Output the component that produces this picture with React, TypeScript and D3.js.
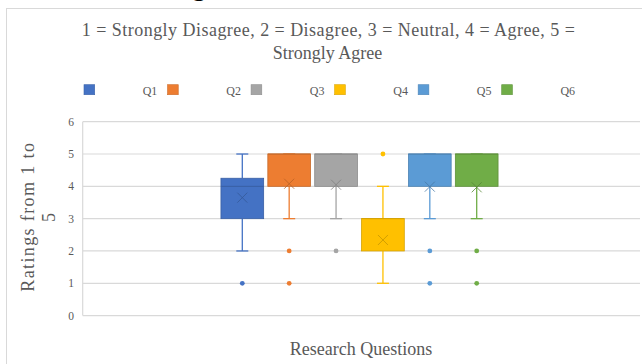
import React from "react";
import * as d3 from "d3";

const questions = ["Q1", "Q2", "Q3", "Q4", "Q5", "Q6"];
const lowerWhisker = [2, 3, 3, 1, 3, 3];
const firstQuartile = [3, 4, 4, 2, 4, 4];
const medians = [4, 5, 5, 3, 5, 5];
const thirdQuartile = [4.25, 5, 5, 3, 5, 5];
const upperWhisker = [5, 5, 5, 4, 5, 5];
const means = [3.65, 4.08, 4.05, 2.34, 3.99, 3.97];
const outliers = [[1], [2, 1], [2], [5], [2, 1], [2, 1]];
const colors = ["#4472C4", "#ED7D31", "#A5A5A5", "#FFC000", "#5B9BD5", "#70AD47"];
const yTicks = [0, 1, 2, 3, 4, 5, 6];
const titleLines = [
  "1 = Strongly  Disagree,  2 = Disagree,  3 = Neutral,  4 = Agree,  5 =",
  "Strongly  Agree",
];
const yTitleLines = ["Ratings  from  1  to", "5"];
const xTitle = "Research  Questions";

const W = 642;
const H = 364;
const FONT = "'Liberation Serif', 'Times New Roman', serif";
const TXT = "#595959";

export default function App() {
  const plotLeft = 82.7;
  const plotRight = 640;
  const y = d3.scaleLinear().domain([0, 6]).range([315.6, 121.7]);
  const x = d3.scalePoint<string>().domain(questions).range([242.3, 476.7]);
  const boxW = 42.7;
  const capW = 12;
  const legendX = d3.scalePoint<string>().domain(questions).range([84, 501.7]);

  return (
    <svg
      width={W}
      height={H}
      style={{ position: "absolute", left: 0, top: 0, background: "#fff" }}
      fontFamily={FONT}
    >
      <rect x={0} y={0} width={W} height={H} fill="#fff" />
      {/* cut-off heading glyph from the page above */}
      <text x={192} y={-5} fontSize={28} fill="#000" fontFamily={FONT}>
        g
      </text>
      {/* chart frame */}
      <rect x={6.5} y={8.5} width={W + 20} height={H + 20} fill="#fff" stroke="#D9D9D9" strokeWidth={1} />

      {/* title */}
      <text x={328.3} y={35.5} textAnchor="middle" fontSize={18} fill={TXT} textLength={493} lengthAdjust="spacing">
        {titleLines[0]}
      </text>
      <text x={327.5} y={59} textAnchor="middle" fontSize={18} fill={TXT}>
        {titleLines[1]}
      </text>

      {/* legend */}
      {questions.map((q, i) => (
        <g key={q}>
          <rect
            x={legendX(q)!}
            y={84.7}
            width={10.7}
            height={10}
            fill={colors[i]}
            stroke={d3.color(colors[i])!.darker(0.4).toString()}
            strokeWidth={0.6}
          />
          <text x={legendX(q)! + 58.7} y={95} fontSize={12} fill={TXT}>
            {q}
          </text>
        </g>
      ))}

      {/* gridlines */}
      {yTicks.map((t) => (
        <line key={t} x1={plotLeft} x2={plotRight} y1={y(t)} y2={y(t)} stroke="#D9D9D9" strokeWidth={1.2} />
      ))}
      <line x1={plotLeft} x2={plotLeft} y1={y(6)} y2={y(0)} stroke="#D9D9D9" strokeWidth={1.2} />
      {yTicks.map((t) => (
        <text key={t} x={74} y={y(t) + 4} textAnchor="end" fontSize={11.5} fill={TXT}>
          {t}
        </text>
      ))}

      {/* boxes */}
      {questions.map((q, i) => {
        const cx = x(q)!;
        const c = colors[i];
        const dark = d3.color(c)!.darker(0.5).toString();
        return (
          <g key={q}>
            <line x1={cx} x2={cx} y1={y(firstQuartile[i])} y2={y(lowerWhisker[i])} stroke={c} strokeWidth={1.3} />
            <line x1={cx} x2={cx} y1={y(thirdQuartile[i])} y2={y(upperWhisker[i])} stroke={c} strokeWidth={1.3} />
            <line x1={cx - capW / 2} x2={cx + capW / 2} y1={y(lowerWhisker[i])} y2={y(lowerWhisker[i])} stroke={c} strokeWidth={1.3} />
            <line x1={cx - capW / 2} x2={cx + capW / 2} y1={y(upperWhisker[i])} y2={y(upperWhisker[i])} stroke={c} strokeWidth={1.3} />
            <rect
              x={cx - boxW / 2}
              y={y(thirdQuartile[i])}
              width={boxW}
              height={y(firstQuartile[i]) - y(thirdQuartile[i])}
              fill={c}
              stroke={dark}
              strokeWidth={0.8}
            />
            <line x1={cx - boxW / 2} x2={cx + boxW / 2} y1={y(medians[i])} y2={y(medians[i])} stroke={dark} strokeWidth={1} />
            <path
              d={`M${cx - 5},${y(means[i]) - 5}L${cx + 5},${y(means[i]) + 5}M${cx - 5},${y(means[i]) + 5}L${cx + 5},${y(means[i]) - 5}`}
              stroke={d3.color(c)!.darker(0.7).toString()}
              strokeWidth={1}
              fill="none"
              opacity={0.8}
            />
            {outliers[i].map((o, j) => (
              <circle key={j} cx={cx} cy={y(o)} r={2.4} fill={c} />
            ))}
          </g>
        );
      })}

      {/* axis titles */}
      <text x={361} y={355} textAnchor="middle" fontSize={18} fill={TXT}>
        {xTitle}
      </text>
      <g transform="translate(34,217.4) rotate(-90)">
        <text x={0} y={0} textAnchor="middle" fontSize={18} fill={TXT} textLength={148.7} lengthAdjust="spacing">
          {yTitleLines[0]}
        </text>
        <text x={0} y={21} textAnchor="middle" fontSize={18} fill={TXT}>
          {yTitleLines[1]}
        </text>
      </g>
    </svg>
  );
}
